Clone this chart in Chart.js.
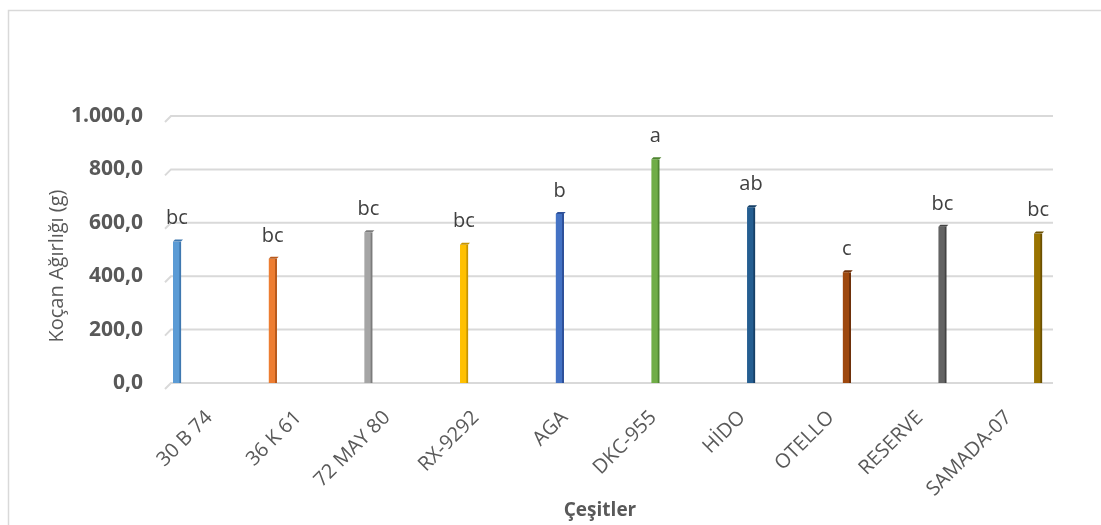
<!DOCTYPE html>
<html>
<head>
<meta charset="utf-8">
<script src="https://cdn.jsdelivr.net/npm/chart.js@4/dist/chart.umd.min.js"></script>
<style>
  html, body { margin: 0; padding: 0; background: #ffffff; }
  #wrap { width: 1101px; height: 525px; position: relative; }
</style>
</head>
<body>
<div id="wrap"><canvas id="c" width="1101" height="525"></canvas></div>
<script>
const categories = ['30 B 74', '36 K 61', '72 MAY 80', 'RX-9292', 'AGA', 'DKC-955', 'HİDO', 'OTELLO', 'RESERVE', 'SAMADA-07'];
const weights = [530, 465, 565, 518, 633, 838, 658, 415, 585, 560];
const groupLetters = ['bc', 'bc', 'bc', 'bc', 'b', 'a', 'ab', 'c', 'bc', 'bc'];
const yTickValues = [0, 200, 400, 600, 800, 1000];
const yTickLabels = ['0,0', '200,0', '400,0', '600,0', '800,0', '1.000,0'];
const yTitle = 'Koçan Ağırlığı (g)';
const xTitle = 'Çeşitler';
const barColors = ['#5B9BD5', '#ED7D31', '#A5A5A5', '#FFC000', '#4472C4', '#70AD47', '#255E91', '#9E480E', '#636363', '#997300'];
const barSideColors = ['#3F78B0', '#B95A1C', '#7C7C7C', '#C79500', '#2E519A', '#4E8530', '#163F66', '#6E300A', '#434343', '#6B5000'];

const FONT = "'Open Sans', 'DejaVu Sans', sans-serif";
const GRAY = '#595959';

const frame = {
  id: 'frame',
  beforeDraw(chart) {
    const ctx = chart.ctx;
    ctx.save();
    ctx.strokeStyle = '#D9D9D9';
    ctx.lineWidth = 1.5;
    ctx.strokeRect(8.5, 10.5, 1200, 600);
    ctx.restore();
  },
  beforeDatasetsDraw(chart) {
    const ctx = chart.ctx;
    const y = chart.scales.y;
    const a = chart.chartArea;
    ctx.save();
    ctx.strokeStyle = '#D9D9D9';
    ctx.lineWidth = 2;
    yTickValues.forEach(v => {
      const py = y.getPixelForValue(v);
      ctx.beginPath();
      ctx.moveTo(a.left, py + 6);
      ctx.lineTo(a.left + 6, py);
      ctx.lineTo(a.right, py);
      ctx.stroke();
    });
    ctx.restore();
  },
  afterDatasetsDraw(chart) {
    const ctx = chart.ctx;
    const meta = chart.getDatasetMeta(0);
    ctx.save();
    ctx.font = "20px " + FONT;
    ctx.textAlign = 'center';
    ctx.textBaseline = 'middle';
    meta.data.forEach((bar, i) => {
      const w = 8;
      ctx.fillStyle = barSideColors[i];
      ctx.beginPath();
      ctx.moveTo(bar.x - w / 2, bar.y);
      ctx.lineTo(bar.x - w / 2 + 2, bar.y - 2);
      ctx.lineTo(bar.x + w / 2 + 2, bar.y - 2);
      ctx.lineTo(bar.x + w / 2, bar.y);
      ctx.closePath();
      ctx.fill();
      ctx.fillStyle = '#404040';
      ctx.fillText(groupLetters[i], bar.x, bar.y - 23);
    });
    // axis titles
    ctx.fillStyle = GRAY;
    ctx.font = "20px " + FONT;
    ctx.save();
    ctx.translate(57, 266);
    ctx.rotate(-Math.PI / 2);
    ctx.fillText(yTitle, 0, 0);
    ctx.restore();
    ctx.font = "bold 19px " + FONT;
    ctx.fillText(xTitle, 600, 511);
    ctx.restore();
  }
};

new Chart(document.getElementById('c'), {
  type: 'bar',
  data: {
    labels: categories,
    datasets: [{
      data: weights.map((v, i) => ({ x: i, y: v })),
      xAxisID: 'xb',
      yAxisID: 'y',
      backgroundColor: barColors,
      borderColor: barSideColors,
      borderWidth: { top: 0, right: 2, bottom: 0, left: 0 },
      borderSkipped: false,
      barThickness: 8
    }]
  },
  options: {
    responsive: false,
    animation: false,
    events: [],
    layout: { padding: { left: 30, top: 116, right: 48, bottom: 2 } },
    plugins: { legend: { display: false }, tooltip: { enabled: false } },
    scales: {
      x: {
        type: 'category',
        position: 'bottom',
        offset: true,
        grid: { display: false, drawTicks: false },
        border: { display: false },
        ticks: {
          color: GRAY,
          font: { family: FONT, size: 20 },
          minRotation: 45,
          maxRotation: 45,
          padding: 23,
          autoSkip: false
        },
        afterFit(s) { s.height = 525 - 383 - 2; }
      },
      xb: {
        type: 'linear',
        display: false,
        offset: false,
        min: -0.1254,
        max: 9.156
      },
      y: {
        type: 'linear',
        min: 0,
        max: 1000,
        grid: { display: false, drawTicks: false },
        border: { display: false },
        afterBuildTicks(s) { s.ticks = yTickValues.map(v => ({ value: v })); },
        ticks: {
          color: GRAY,
          font: { family: FONT, size: 21, weight: 'bold' },
          padding: 22,
          callback: (v) => yTickLabels[yTickValues.indexOf(v)]
        },
        afterFit(s) { s.width = 165 - 30; }
      }
    }
  },
  plugins: [frame]
});
</script>
</body>
</html>
